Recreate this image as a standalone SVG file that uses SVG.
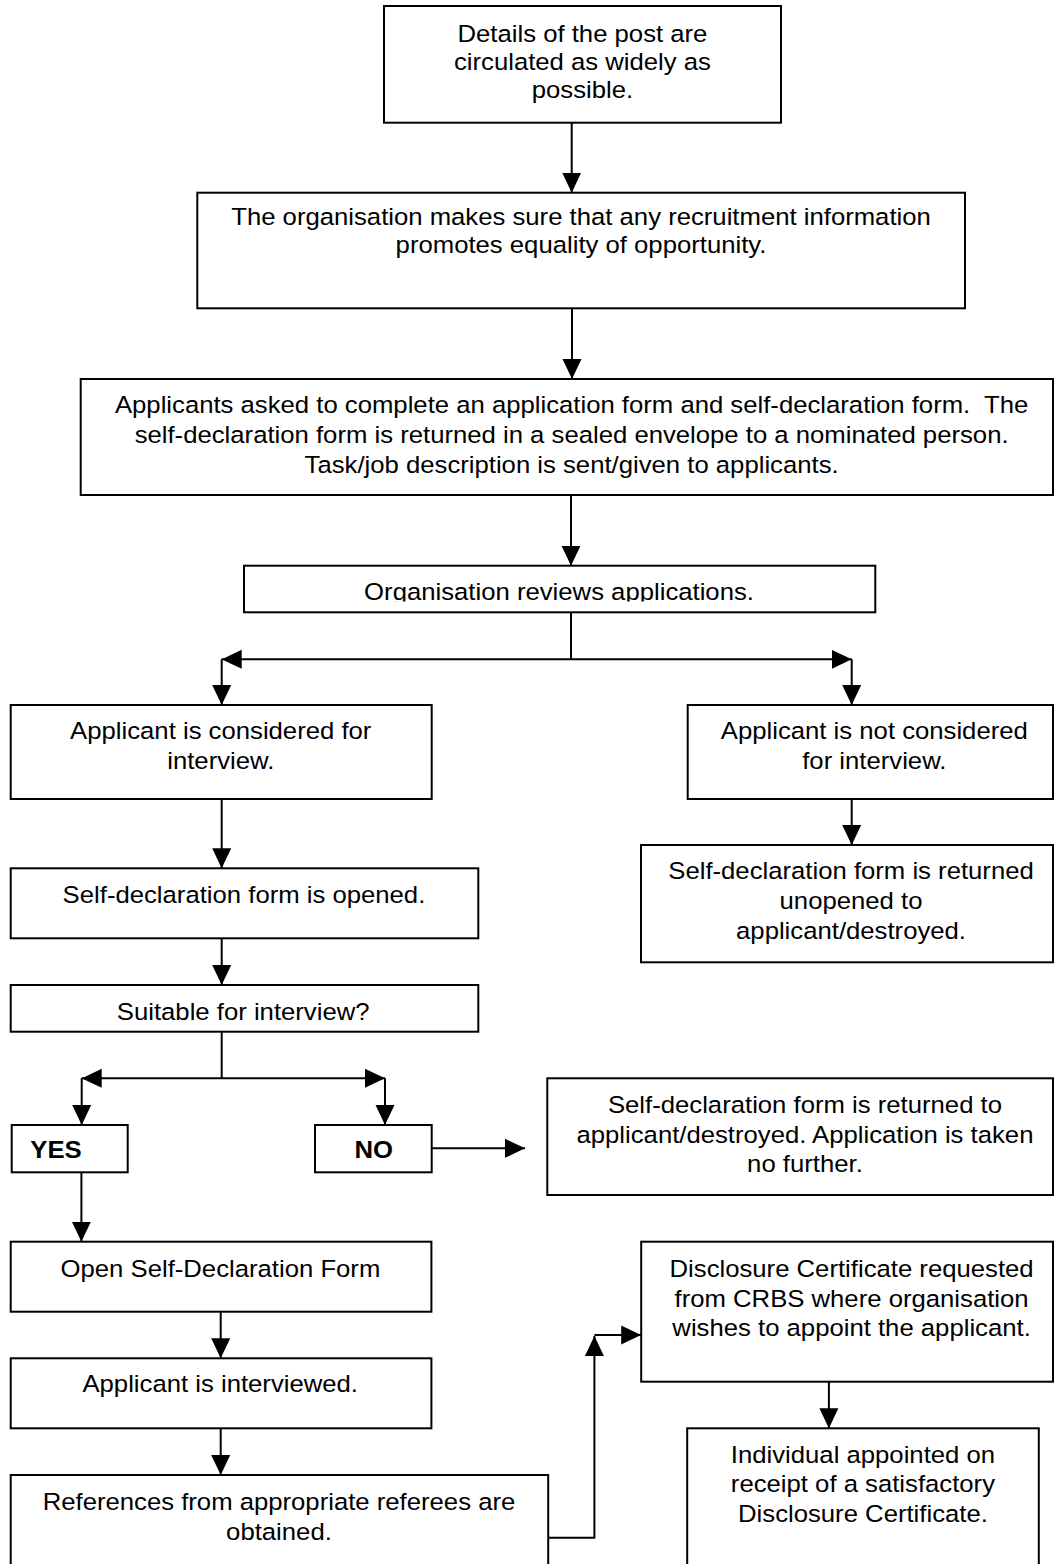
<svg xmlns="http://www.w3.org/2000/svg" width="1055" height="1564" viewBox="0 0 1055 1564">
<style>
.box{fill:#fff;stroke:#000;stroke-width:2}
.ln{fill:none;stroke:#000;stroke-width:2}
.t{font-family:"Liberation Sans",Arial,sans-serif;font-size:23.5px;fill:#000;text-anchor:middle}
.b{font-family:"Liberation Sans",Arial,sans-serif;font-size:23.5px;font-weight:bold;fill:#000}
</style>
<defs>
<marker id="ah" markerUnits="userSpaceOnUse" markerWidth="20" markerHeight="20" viewBox="0 0 20 20" refX="20" refY="10" orient="auto">
<path d="M0,0.5 L20,10 L0,19.5 z" fill="#000"/>
</marker>
<clipPath id="c4"><rect x="244" y="566" width="631" height="35.5"/></clipPath>
</defs>
<rect width="1055" height="1564" fill="#fff"/>
<g id="connectors">
<path class="ln" d="M571.7,122.7 V192.7" marker-end="url(#ah)"/>
<path class="ln" d="M572,308 V379" marker-end="url(#ah)"/>
<path class="ln" d="M571,495 V565.7" marker-end="url(#ah)"/>
<path class="ln" d="M571,612.3 V659.3"/>
<path class="ln" d="M571,659.3 H221.7" marker-end="url(#ah)"/>
<path class="ln" d="M571,659.3 H851.7" marker-end="url(#ah)"/>
<path class="ln" d="M221.7,659.3 V705" marker-end="url(#ah)"/>
<path class="ln" d="M851.7,659.3 V705" marker-end="url(#ah)"/>
<path class="ln" d="M221.7,799 V868.3" marker-end="url(#ah)"/>
<path class="ln" d="M851.7,799 V845" marker-end="url(#ah)"/>
<path class="ln" d="M221.7,938.3 V985" marker-end="url(#ah)"/>
<path class="ln" d="M221.7,1031.7 V1078.3"/>
<path class="ln" d="M221.7,1078.3 H81.7" marker-end="url(#ah)"/>
<path class="ln" d="M221.7,1078.3 H385" marker-end="url(#ah)"/>
<path class="ln" d="M81.7,1078.3 V1125" marker-end="url(#ah)"/>
<path class="ln" d="M385,1078.3 V1125" marker-end="url(#ah)"/>
<path class="ln" d="M431.7,1148.3 H525" marker-end="url(#ah)"/>
<path class="ln" d="M81.4,1172.3 V1241.7" marker-end="url(#ah)"/>
<path class="ln" d="M220.7,1311.7 V1358.3" marker-end="url(#ah)"/>
<path class="ln" d="M220.7,1428.3 V1475" marker-end="url(#ah)"/>
<path class="ln" d="M548.2,1537.7 H594.4 V1336" marker-end="url(#ah)"/>
<path class="ln" d="M594.4,1335 H641.2" marker-end="url(#ah)"/>
<path class="ln" d="M828.9,1381.7 V1428.3" marker-end="url(#ah)"/>
</g>
<g id="n1">
<rect class="box" x="384" y="6" width="397" height="116.7"/>
<text class="t" transform="scale(1.094,1)"><tspan x="532.4" y="42">Details of the post are</tspan><tspan x="532.4" y="70">circulated as widely as</tspan><tspan x="532.4" y="98">possible.</tspan></text>
</g>
<g id="n2">
<rect class="box" x="197.3" y="192.7" width="767.7" height="115.6"/>
<text class="t" transform="scale(1.094,1)"><tspan x="531.1" y="225">The organisation makes sure that any recruitment information</tspan><tspan x="531.1" y="253">promotes equality of opportunity.</tspan></text>
</g>
<g id="n3">
<rect class="box" x="80.7" y="379" width="972.3" height="116"/>
<text class="t" transform="scale(1.094,1)" xml:space="preserve"><tspan x="522.5" y="413">Applicants asked to complete an application form and self-declaration form.  The</tspan><tspan x="522.5" y="443">self-declaration form is returned in a sealed envelope to a nominated person.</tspan><tspan x="522.5" y="473">Task/job description is sent/given to applicants.</tspan></text>
</g>
<g id="n4">
<rect class="box" x="244" y="565.7" width="631.3" height="46.6"/>
<g clip-path="url(#c4)"><text class="t" transform="scale(1.094,1)" x="511" y="600">Organisation reviews applications.</text></g>
</g>
<g id="n5">
<rect class="box" x="10.7" y="705" width="421" height="94"/>
<text class="t" transform="scale(1.094,1)"><tspan x="201.8" y="739.3">Applicant is considered for</tspan><tspan x="201.8" y="769.3">interview.</tspan></text>
</g>
<g id="n7">
<rect class="box" x="687.7" y="705" width="365.3" height="94"/>
<text class="t" transform="scale(1.094,1)"><tspan x="799.2" y="739.3">Applicant is not considered</tspan><tspan x="799.2" y="769.3">for interview.</tspan></text>
</g>
<g id="n6">
<rect class="box" x="10.7" y="868.3" width="467.6" height="70"/>
<text class="t" transform="scale(1.094,1)" x="223" y="902.7">Self-declaration form is opened.</text>
</g>
<g id="n8">
<rect class="box" x="641" y="845" width="412" height="117.3"/>
<text class="t" transform="scale(1.094,1)"><tspan x="777.9" y="879.3">Self-declaration form is returned</tspan><tspan x="777.9" y="909">unopened to</tspan><tspan x="777.9" y="939">applicant/destroyed.</tspan></text>
</g>
<g id="n9">
<rect class="box" x="10.7" y="985" width="467.6" height="46.7"/>
<text class="t" transform="scale(1.094,1)" x="222.3" y="1020">Suitable for interview?</text>
</g>
<g id="n10">
<rect class="box" x="11.7" y="1125" width="116" height="47.3"/>
<text class="b" transform="scale(1.094,1)" x="27.7" y="1158.3">YES</text>
</g>
<g id="n11">
<rect class="box" x="315" y="1125" width="116.7" height="47.3"/>
<text class="b" transform="scale(1.094,1)" x="324.1" y="1158.3">NO</text>
</g>
<g id="n12">
<rect class="box" x="547.3" y="1078.3" width="505.7" height="116.7"/>
<text class="t" transform="scale(1.094,1)"><tspan x="735.8" y="1112.7">Self-declaration form is returned to</tspan><tspan x="735.8" y="1142.7">applicant/destroyed. Application is taken</tspan><tspan x="735.8" y="1171.7">no further.</tspan></text>
</g>
<g id="n13">
<rect class="box" x="10.7" y="1241.7" width="420.7" height="70"/>
<text class="t" transform="scale(1.094,1)" x="201.5" y="1276.7">Open Self-Declaration Form</text>
</g>
<g id="n14">
<rect class="box" x="10.7" y="1358.3" width="420.7" height="70"/>
<text class="t" transform="scale(1.094,1)" x="201.3" y="1392.3">Applicant is interviewed.</text>
</g>
<g id="n15">
<rect class="box" x="10.7" y="1475" width="537.5" height="100"/>
<text class="t" transform="scale(1.094,1)"><tspan x="255" y="1510">References from appropriate referees are</tspan><tspan x="255" y="1540">obtained.</tspan></text>
</g>
<g id="n16">
<rect class="box" x="641.2" y="1241.7" width="411.8" height="140"/>
<text class="t" transform="scale(1.094,1)"><tspan x="778.4" y="1276.7">Disclosure Certificate requested</tspan><tspan x="778.4" y="1306.7">from CRBS where organisation</tspan><tspan x="778.4" y="1335.7">wishes to appoint the applicant.</tspan></text>
</g>
<g id="n17">
<rect class="box" x="687.2" y="1428.3" width="351.6" height="150"/>
<text class="t" transform="scale(1.094,1)"><tspan x="788.8" y="1462.7">Individual appointed on</tspan><tspan x="788.8" y="1491.7">receipt of a satisfactory</tspan><tspan x="788.8" y="1521.7">Disclosure Certificate.</tspan></text>
</g>
</svg>
